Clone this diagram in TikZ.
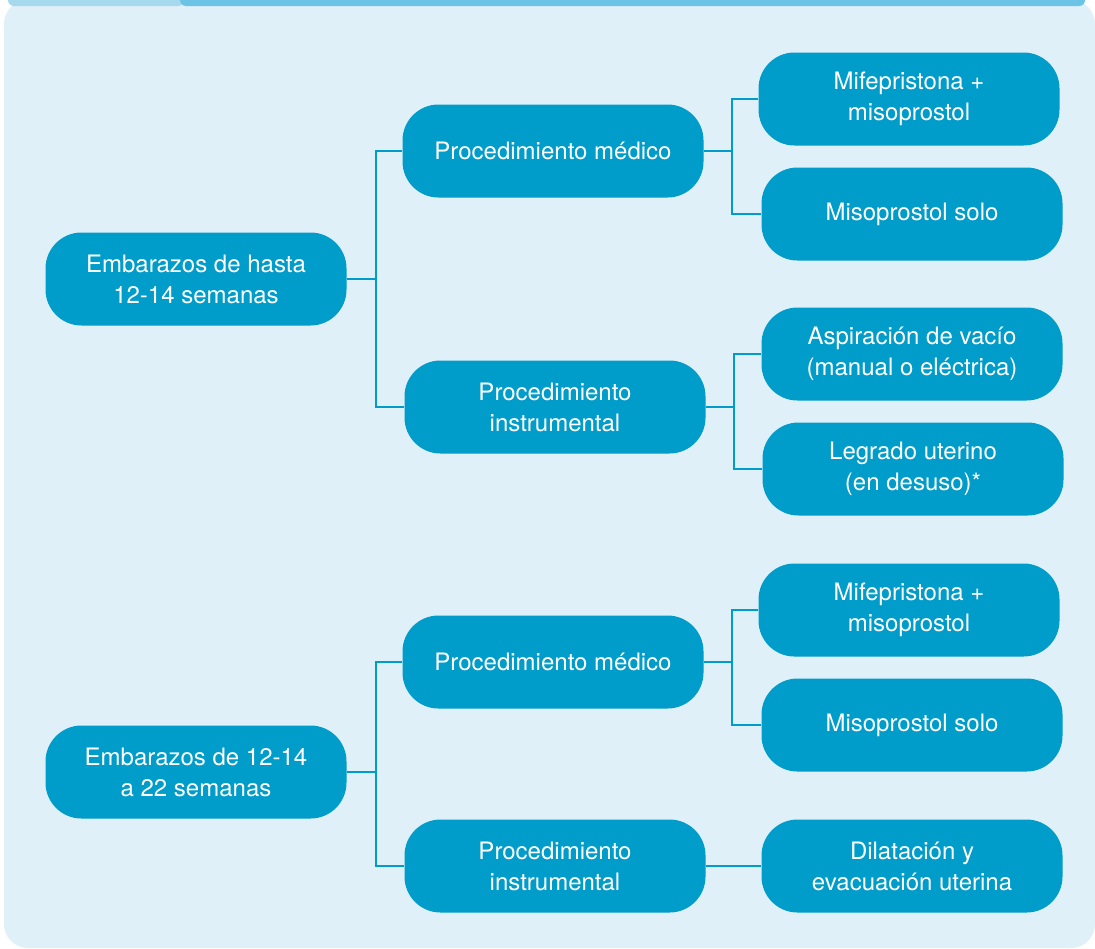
\documentclass[tikz,border=0pt]{standalone}
\usepackage{fontspec}
\setmainfont{TeX Gyre Heros}
\usepackage{tikz}
\definecolor{panelblue}{RGB}{223,240,248}
\definecolor{tabblue}{RGB}{166,216,238}
\definecolor{barblue}{RGB}{107,195,229}
\definecolor{boxblue}{RGB}{0,156,202}
\begin{document}
\begin{tikzpicture}[x=0.5pt,y=-0.5pt,
    box/.style={fill=boxblue,text=white,rounded corners=18pt,minimum width=150.5pt,minimum height=46.5pt,align=center,inner sep=2pt,font=\fontsize{12}{15.5}\selectfont},
    link/.style={draw=boxblue,line width=1pt}]
    \useasboundingbox (0,0) rectangle (1095,948);
    \fill[panelblue,rounded corners=12pt] (4,0) rectangle (1095,948);
    \fill[tabblue,rounded corners=3pt] (8,-12) rectangle (184,6);
    \fill[barblue,rounded corners=3pt] (180,-12) rectangle (1085,6);
    \coordinate (j1) at (376,279);
    \coordinate (j2) at (732,153);
    \coordinate (j3) at (734,409);
    \coordinate (j4) at (376,772);
    \coordinate (j5) at (732,664);
    \node[box] (root1) at (196,279) {Embarazos de hasta\\12-14 semanas};
    \node[box] (med1) at (553,151) {Procedimiento médico};
    \node[box] (inst1) at (555,407) {Procedimiento\\instrumental};
    \node[box] (mife1) at (909,99) {Mifepristona +\\misoprostol};
    \node[box] (miso1) at (912,214) {Misoprostol solo};
    \node[box] (asp1) at (912,354) {Aspiración de vacío\\(manual o eléctrica)};
    \node[box] (leg1) at (913,469) {Legrado uterino\\(en desuso)*};
    \node[box] (root2) at (196,772) {Embarazos de 12-14\\a 22 semanas};
    \node[box] (med2) at (553,662) {Procedimiento médico};
    \node[box] (inst2) at (555,866) {Procedimiento\\instrumental};
    \node[box] (mife2) at (909,610) {Mifepristona +\\misoprostol};
    \node[box] (miso2) at (912,725) {Misoprostol solo};
    \node[box] (dil2) at (912,866) {Dilatación y\\evacuación uterina};
    \draw[link] (root1.east) -- (root1.east -| j1);
    \draw[link] (med1.west) -| (j1) |- (inst1.west);
    \draw[link] (med1.east) -- (med1.east -| j2);
    \draw[link] (mife1.west) -| (j2) |- (miso1.west);
    \draw[link] (inst1.east) -- (inst1.east -| j3);
    \draw[link] (asp1.west) -| (j3) |- (leg1.west);
    \draw[link] (root2.east) -- (root2.east -| j4);
    \draw[link] (med2.west) -| (j4) |- (inst2.west);
    \draw[link] (med2.east) -- (med2.east -| j5);
    \draw[link] (mife2.west) -| (j5) |- (miso2.west);
    \draw[link] (inst2) -- (dil2);
\end{tikzpicture}
\end{document}
